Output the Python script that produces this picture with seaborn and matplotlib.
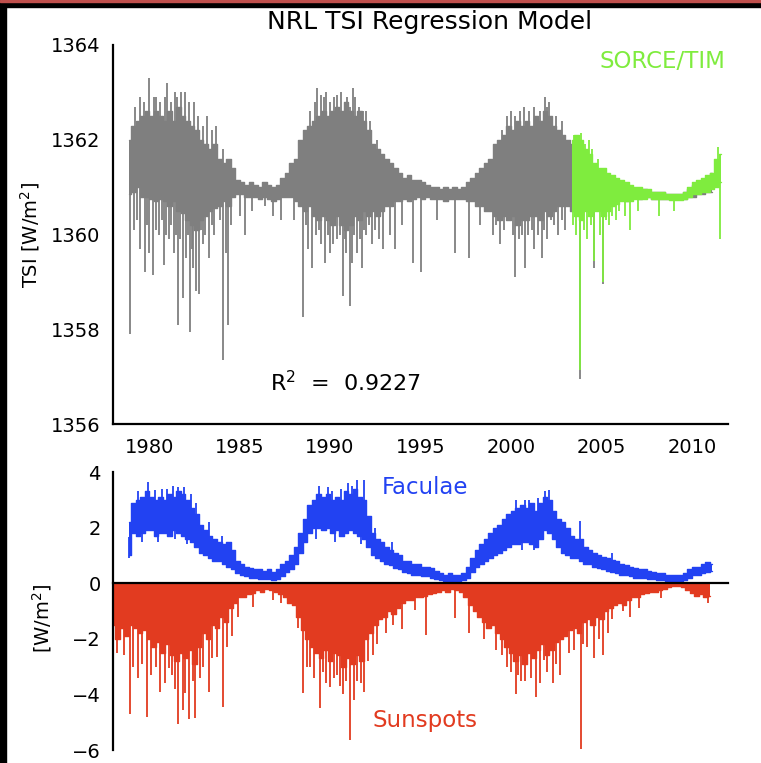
import numpy as np
import matplotlib
matplotlib.use("Agg")
import matplotlib.pyplot as plt
import seaborn as sns
from matplotlib.ticker import MultipleLocator, AutoMinorLocator
from matplotlib.patches import Rectangle

sns.set_style("white")
plt.rcParams['font.family'] = ['DejaVu Sans']
plt.rcParams['text.color'] = 'black'

# ---------------- data ----------------
STEP = 0.25
TSI_T0 = 1978.875
tsi_hi = [1362.0, 1362.3, 1362.4, 1362.5, 1362.6, 1362.5, 1362.6, 1362.5, 1362.4, 1362.6,
          1362.4, 1362.7, 1362.5, 1362.4, 1362.3, 1362.2, 1362.0, 1361.9, 1361.8, 1361.9,
          1361.6, 1361.5, 1361.6, 1361.4, 1361.15, 1361.1, 1361.05, 1361.1, 1361.05, 1361.0,
          1361.1, 1361.05, 1361.0, 1361.05, 1361.2, 1361.3, 1361.5, 1361.6, 1362.0, 1362.2,
          1362.3, 1362.4, 1362.5, 1362.6, 1362.5, 1362.6, 1362.7, 1362.6, 1362.8, 1362.6,
          1362.5, 1362.6, 1362.4, 1362.2, 1361.9, 1361.8, 1361.7, 1361.6, 1361.5, 1361.4,
          1361.3, 1361.2, 1361.25, 1361.15, 1361.15, 1361.1, 1361.05, 1361.0, 1361.0, 1360.95,
          1361.0, 1360.95, 1361.0, 1360.95, 1361.0, 1361.1, 1361.2, 1361.3, 1361.4, 1361.5,
          1361.6, 1361.9, 1362.0, 1362.1, 1362.3, 1362.2, 1362.4, 1362.3, 1362.4, 1362.3,
          1362.5, 1362.4, 1362.6, 1362.5, 1362.3, 1362.2, 1362.1, 1362.0, 1361.9, 1361.8,
          1361.9, 1361.6, 1361.5, 1361.4, 1361.3, 1361.3, 1361.2, 1361.15, 1361.1, 1361.1,
          1361.05, 1361.0, 1360.95, 1360.95, 1360.95, 1360.9, 1360.9, 1360.9, 1360.9, 1360.85,
          1360.85, 1360.85, 1360.85, 1360.9, 1360.95, 1361.05, 1361.1, 1361.15, 1361.2, 1361.3]
tsi_lo = [1360.85, 1360.9, 1361.0, 1360.8, 1360.8, 1360.75, 1360.7, 1360.75, 1360.7, 1360.6,
          1360.7, 1360.5, 1360.45, 1360.3, 1360.2, 1360.1, 1360.3, 1360.4, 1360.5, 1360.55,
          1360.6, 1360.7, 1360.6, 1360.8, 1360.85, 1360.85, 1360.8, 1360.8, 1360.8, 1360.75,
          1360.8, 1360.75, 1360.7, 1360.75, 1360.8, 1360.8, 1360.8, 1360.7, 1360.6, 1360.5,
          1360.6, 1360.4, 1360.3, 1360.4, 1360.3, 1360.2, 1360.4, 1360.2, 1360.1, 1360.2,
          1360.4, 1360.3, 1360.5, 1360.4, 1360.5, 1360.4, 1360.5, 1360.6, 1360.6, 1360.7,
          1360.7, 1360.75, 1360.7, 1360.75, 1360.8, 1360.75, 1360.8, 1360.75, 1360.75, 1360.75,
          1360.7, 1360.75, 1360.75, 1360.75, 1360.75, 1360.7, 1360.7, 1360.6, 1360.6, 1360.5,
          1360.5, 1360.4, 1360.3, 1360.4, 1360.3, 1360.4, 1360.2, 1360.3, 1360.3, 1360.4,
          1360.4, 1360.3, 1360.5, 1360.4, 1360.5, 1360.6, 1360.6, 1360.6, 1360.5, 1360.5,
          1360.4, 1360.6, 1360.5, 1360.6, 1360.6, 1360.5, 1360.6, 1360.7, 1360.7, 1360.75,
          1360.7, 1360.75, 1360.8, 1360.75, 1360.8, 1360.8, 1360.75, 1360.75, 1360.75, 1360.75,
          1360.75, 1360.75, 1360.75, 1360.75, 1360.8, 1360.8, 1360.85, 1360.85, 1360.9, 1360.9]
tsi_spike_t = [1978.95, 1979.15, 1979.5, 1979.75, 1980.0, 1980.2, 1980.55, 1980.8, 1981.1, 1981.35,
               1981.6, 1981.85, 1982.05, 1982.25, 1982.45, 1982.6, 1982.75, 1982.95, 1983.3, 1983.6,
               1984.1, 1984.25, 1984.35, 1984.5, 1985.0, 1985.3, 1985.7, 1986.4, 1986.85, 1987.3,
               1988.0, 1988.5, 1988.8, 1989.0, 1989.5, 1989.7, 1990.0, 1990.4, 1990.7, 1990.9,
               1991.1, 1991.2, 1991.5, 1991.75, 1992.0, 1992.3, 1992.7, 1992.9, 1993.3, 1993.6,
               1994.0, 1994.6, 1995.0, 1995.9, 1996.9, 1997.7, 1998.3, 1999.0, 1999.4, 1999.9,
               2000.25, 2000.6, 2000.8, 2001.3, 2001.7, 2002.0, 2002.2, 2002.6, 2003.0, 2003.8,
               2004.6, 2005.1,
               1979.3, 1979.9, 1980.35, 1980.7, 1980.95, 1981.2, 1981.5, 1981.7, 1982.15, 1982.35,
               1982.85, 1983.1, 1983.45, 1983.9, 1988.65, 1989.2, 1989.4, 1989.9, 1990.15, 1990.55,
               1990.8, 1991.35, 1991.65, 1991.9, 1992.15, 1992.5, 1999.2, 1999.6, 2000.1, 2000.45,
               2000.95, 2001.15, 2001.5, 2001.85, 2002.4, 2002.8,
               1979.5, 1980.0, 1980.4, 1981.0, 1981.4, 1981.75, 1982.0, 1982.5, 1983.2, 1983.7,
               1984.1, 1989.3, 1989.5, 1989.8, 1990.2, 1990.6, 1990.95, 1991.25, 1991.6, 1992.0,
               1992.6, 1999.8, 2000.0, 2000.7, 2001.0, 2001.9, 2002.1, 2002.8,
               1979.2, 1979.7, 1980.25, 1980.6, 1980.85, 1981.2, 1981.55, 1982.2, 1982.7, 1982.95,
               1983.45, 1988.9, 1989.15, 1989.65, 1990.0, 1990.4, 1990.8, 1991.1, 1991.4, 1991.8,
               1992.2, 1999.5, 2000.2, 2000.5, 2001.25, 2001.6, 2002.0, 2002.5]
tsi_spike_v = [1357.9, 1360.1, 1359.7, 1359.2, 1359.6, 1359.15, 1360.0, 1359.35, 1359.9, 1359.6,
               1358.1, 1358.65, 1359.5, 1357.95, 1359.3, 1358.8, 1358.75, 1359.8, 1359.5, 1360.0,
               1357.35, 1359.6, 1358.1, 1360.2, 1360.4, 1360.0, 1360.5, 1360.6, 1360.4, 1360.3,
               1360.3, 1358.25, 1359.7, 1359.3, 1359.8, 1359.4, 1359.6, 1359.9, 1358.7, 1359.6,
               1358.5, 1359.4, 1359.6, 1359.3, 1360.0, 1359.8, 1359.9, 1359.7, 1360.0, 1359.7,
               1360.2, 1359.4, 1359.2, 1360.3, 1359.6, 1359.5, 1360.2, 1360.0, 1359.8, 1360.3,
               1359.1, 1360.0, 1359.3, 1359.7, 1359.5, 1359.9, 1360.3, 1360.0, 1360.1, 1356.95,
               1359.3, 1358.95,
               1360.3, 1360.2, 1360.1, 1360.3, 1360.0, 1360.2, 1360.0, 1359.9, 1360.0, 1359.7,
               1360.1, 1360.0, 1360.2, 1360.3, 1360.2, 1360.0, 1360.1, 1360.0, 1359.8, 1360.0,
               1359.9, 1360.0, 1359.9, 1360.1, 1360.2, 1360.1, 1360.2, 1360.1, 1360.0, 1359.9,
               1360.0, 1360.1, 1360.0, 1360.1, 1360.2, 1360.3,
               1362.9, 1363.3, 1362.9, 1363.2, 1363.0, 1363.0, 1363.0, 1362.8, 1362.5, 1362.3,
               1361.8, 1363.1, 1362.95, 1363.0, 1362.9, 1363.0, 1362.9, 1363.1, 1362.7, 1362.6,
               1362.0, 1362.5, 1362.6, 1362.7, 1362.6, 1362.9, 1362.8, 1362.4,
               1362.7, 1362.8, 1362.9, 1362.8, 1362.9, 1362.8, 1362.9, 1362.8, 1362.5, 1362.3,
               1362.2, 1362.6, 1362.8, 1362.9, 1362.8, 1362.95, 1362.8, 1362.7, 1362.9, 1362.6,
               1362.4, 1362.2, 1362.5, 1362.6, 1362.7, 1362.6, 1362.7, 1362.5]

SORCE_T0 = 2003.375
sorce_hi = [1362.0, 1362.1, 1362.0, 1361.8, 1361.7, 1361.5, 1361.4, 1361.4, 1361.3, 1361.25,
            1361.2, 1361.15, 1361.1, 1361.05, 1361.0, 1361.0, 1360.95, 1360.95, 1360.9, 1360.9,
            1360.9, 1360.85, 1360.85, 1360.85, 1360.85, 1360.9, 1361.0, 1361.1, 1361.15, 1361.2,
            1361.25, 1361.3, 1361.6, 1361.7]
sorce_lo = [1360.5, 1360.4, 1360.3, 1360.5, 1360.4, 1360.5, 1360.5, 1360.4, 1360.5, 1360.6,
            1360.65, 1360.7, 1360.7, 1360.7, 1360.75, 1360.75, 1360.75, 1360.8, 1360.75, 1360.75,
            1360.75, 1360.75, 1360.72, 1360.72, 1360.72, 1360.75, 1360.8, 1360.85, 1360.85, 1360.9,
            1360.9, 1360.95, 1361.0, 1361.1]
sorce_spike_t = [2003.8, 2003.6, 2003.9, 2004.2, 2004.6, 2005.1, 2004.9, 2005.4, 2005.8, 2006.3,
                 2006.6, 2007.0, 2008.2, 2009.0, 2011.55, 2003.9, 2004.3, 2004.8, 2011.45,
                 2003.45, 2004.05, 2004.45, 2005.25, 2005.6, 2006.0, 2003.5, 2004.1, 2004.5]
sorce_spike_v = [1357.15, 1360.0, 1360.3, 1359.9, 1359.45, 1359.0, 1360.0, 1360.2, 1360.3, 1360.4,
                 1360.1, 1360.5, 1360.4, 1360.5, 1359.9, 1362.15, 1362.0, 1361.6, 1361.85,
                 1360.2, 1360.1, 1360.2, 1360.3, 1360.4, 1360.5, 1362.1, 1361.9, 1361.8]

FAC_T0 = 1978.875
fac_hi = [2.2, 2.9, 3.0, 3.1, 3.3, 3.1, 3.0, 3.1, 3.0, 3.2, 3.1, 3.3, 3.2, 3.0, 2.7, 2.5, 2.1, 1.9,
          1.7, 1.6, 1.5, 1.4, 1.5, 1.2, 0.8, 0.7, 0.6, 0.55, 0.5, 0.5, 0.45, 0.5, 0.4, 0.5, 0.7,
          0.8, 1.0, 1.3, 1.8, 2.3, 2.8, 3.0, 3.2, 3.1, 3.2, 3.0, 3.1, 3.0, 3.3, 3.2, 3.4, 3.1, 3.0,
          2.4, 1.8, 1.6, 1.5, 1.3, 1.2, 1.1, 1.0, 0.8, 0.8, 0.7, 0.7, 0.6, 0.6, 0.55, 0.45, 0.35,
          0.3, 0.35, 0.3, 0.3, 0.35, 0.6, 0.9, 1.2, 1.4, 1.6, 1.8, 2.0, 2.1, 2.3, 2.5, 2.6, 2.7,
          2.8, 2.7, 2.9, 2.6, 2.9, 3.1, 3.0, 2.6, 2.3, 2.2, 2.0, 1.7, 1.6, 1.6, 1.3, 1.2, 1.1, 1.0,
          0.95, 0.9, 0.85, 0.8, 0.7, 0.65, 0.6, 0.55, 0.5, 0.5, 0.45, 0.4, 0.35, 0.35, 0.3, 0.3,
          0.3, 0.3, 0.35, 0.5, 0.6, 0.6, 0.7, 0.75, 0.7]
fac_lo = [1.0, 1.8, 1.7, 1.8, 1.9, 1.9, 1.7, 1.8, 1.8, 1.7, 1.9, 1.8, 1.7, 1.6, 1.5, 1.3, 1.1, 1.0,
          0.9, 0.8, 0.8, 0.7, 0.6, 0.5, 0.35, 0.3, 0.25, 0.2, 0.2, 0.15, 0.15, 0.15, 0.12, 0.15,
          0.25, 0.4, 0.5, 0.7, 1.1, 1.5, 1.8, 2.0, 2.0, 1.9, 2.0, 1.8, 1.9, 1.7, 1.8, 1.9, 1.8, 1.7,
          1.6, 1.3, 1.0, 0.9, 0.8, 0.7, 0.65, 0.55, 0.5, 0.4, 0.35, 0.3, 0.3, 0.25, 0.25, 0.2, 0.15,
          0.1, 0.08, 0.06, 0.05, 0.05, 0.1, 0.2, 0.4, 0.6, 0.7, 0.8, 0.9, 1.0, 1.1, 1.2, 1.3, 1.4,
          1.4, 1.5, 1.5, 1.4, 1.3, 1.6, 1.9, 1.8, 1.6, 1.3, 1.1, 1.0, 0.9, 0.9, 0.8, 0.7, 0.7, 0.6,
          0.55, 0.5, 0.45, 0.4, 0.35, 0.3, 0.3, 0.25, 0.2, 0.2, 0.2, 0.15, 0.15, 0.1, 0.1, 0.08,
          0.07, 0.07, 0.08, 0.1, 0.2, 0.3, 0.3, 0.35, 0.4, 0.45]
fac_spike_t = [1979.95, 1980.7, 1981.3, 1981.9, 1982.3, 1983.3, 1984.0, 1989.4, 1990.1, 1991.0,
               1991.5, 1991.9, 1992.5, 1993.4, 2000.3, 2001.0, 2001.9, 2002.1, 2003.8, 2005.6,
               1979.4, 1980.3, 1981.0, 1981.6, 1982.6, 1989.9, 1990.6, 1991.2, 2000.8, 2001.5,
               1978.9, 1979.6, 1980.5, 1981.4, 1982.1, 1989.2, 1990.3, 1991.7, 2000.6, 2001.3]
fac_spike_v = [3.65, 3.4, 3.5, 3.45, 3.2, 2.2, 1.7, 3.5, 3.3, 3.6,
               3.7, 3.7, 2.0, 1.5, 3.0, 3.0, 3.3, 3.35, 2.25, 1.1,
               3.3, 3.35, 3.4, 3.45, 2.9, 3.45, 3.4, 3.5, 3.0, 3.05,
               0.9, 1.5, 1.5, 1.6, 1.4, 1.6, 1.5, 1.4, 1.2, 1.2]

SPOT_T0 = 1978.0
spot_lo = [-1.5, -2.0, -1.6, -1.9, -1.5, -1.6, -1.8, -1.7, -2.0, -2.3, -2.1, -2.5, -2.2, -2.6,
           -2.8, -2.5, -2.7, -2.4, -2.9, -2.3, -1.8, -2.0, -1.5, -1.6, -1.2, -1.4, -0.9, -0.7,
           -0.5, -0.5, -0.4, -0.35, -0.25, -0.3, -0.2, -0.25, -0.3, -0.4, -0.5, -0.7, -0.8, -1.2,
           -1.7, -2.0, -2.3, -2.5, -2.7, -2.4, -2.8, -2.5, -2.6, -3.0, -2.7, -2.9, -2.6, -2.8,
           -2.0, -1.8, -1.5, -1.3, -1.2, -1.0, -1.1, -0.9, -0.7, -0.6, -0.6, -0.5, -0.5, -0.45,
           -0.4, -0.35, -0.3, -0.25, -0.3, -0.2, -0.25, -0.3, -0.5, -0.8, -1.0, -1.2, -1.4, -1.6,
           -1.5, -1.8, -2.0, -2.3, -2.5, -2.8, -2.6, -2.9, -2.5, -2.7, -2.4, -2.2, -2.6, -2.4,
           -2.1, -2.0, -1.9, -1.7, -1.6, -1.8, -1.4, -1.3, -1.5, -1.2, -1.3, -1.0, -0.9, -0.8,
           -0.7, -0.8, -0.6, -0.5, -0.5, -0.4, -0.35, -0.3, -0.3, -0.25, -0.2, -0.15, -0.1, -0.1,
           -0.15, -0.25, -0.35, -0.45, -0.4, -0.5, -0.45]
spot_spike_t = [1978.2, 1978.95, 1979.4, 1979.86, 1980.6, 1981.1, 1981.6, 1981.85, 1982.0, 1982.2,
                1982.55, 1982.8, 1983.3, 1983.75, 1984.1, 1984.3, 1984.9, 1985.75, 1986.85, 1987.3,
                1988.5, 1988.9, 1989.45, 1990.0, 1990.4, 1991.1, 1991.5, 1991.85, 1992.1, 1992.6,
                1993.1, 1993.95, 1994.7, 1995.3, 1996.9, 1997.7, 2000.26, 2000.53, 2000.8, 2001.37,
                2001.83, 2002.7, 2003.9, 2004.6, 2005.1, 2005.6, 2006.2, 2008.3,
                1979.1, 1980.1, 1980.9, 1981.4, 1983.0, 1989.1, 1989.8, 1990.7, 1991.3, 1999.5,
                2000.0, 2001.1, 2002.3, 2003.5, 2004.2,
                1978.6, 1979.6, 1980.35, 1981.25, 1982.4, 1983.5, 1984.6, 1988.2, 1988.75, 1989.6,
                1990.2, 1990.55, 1990.9, 1991.7, 1992.35, 1993.5, 1998.5, 1999.2, 1999.8, 2000.4,
                2001.6, 2002.0, 2002.5, 2003.2, 2004.0, 2004.85, 2005.35, 2006.6, 2007.1, 2010.9]
spot_spike_v = [-2.5, -4.7, -3.4, -4.8, -3.9, -3.05, -5.05, -4.55, -3.95, -4.9,
                -4.85, -3.4, -3.9, -2.65, -4.45, -2.3, -1.2, -0.85, -0.6, -0.7,
                -3.95, -3.0, -4.5, -3.75, -3.3, -5.65, -3.5, -3.9, -2.8, -2.2,
                -1.8, -1.65, -0.95, -1.85, -1.26, -1.8, -3.97, -3.5, -3.5, -4.1,
                -2.77, -3.3, -5.95, -2.7, -2.6, -1.3, -1.0, -0.55,
                -3.0, -3.3, -3.6, -3.8, -3.0, -3.4, -3.6, -4.0, -4.2, -2.6,
                -3.2, -3.4, -3.6, -2.4, -2.3,
                -2.6, -2.9, -3.0, -3.3, -3.5, -2.7, -1.9, -1.6, -3.0, -3.2,
                -3.4, -3.7, -3.5, -3.6, -2.6, -1.5, -2.0, -2.4, -3.0, -3.3,
                -3.6, -3.2, -2.9, -2.5, -2.2, -2.0, -1.8, -1.2, -0.9, -0.7]

year_ticks = [1980, 1985, 1990, 1995, 2000, 2005, 2010]
tsi_ticks = [1356, 1358, 1360, 1362, 1364]
w_ticks = [-6, -4, -2, 0, 2, 4]
w_tick_labels = ['\u22126', '\u22124', '\u22122', '0', '2', '4']

# ---------------- styling ----------------
GRAY = '#7f7f7f'
GREEN = '#7fec3e'
BLUE = '#2242f2'
RED = '#e23b20'

W, H = 761, 763
fig = plt.figure(figsize=(W / 100, H / 100), dpi=100)
fig.patch.set_facecolor('white')


def fx(px):
    return px / W


def fy(py):
    return 1 - py / H


ax1 = fig.add_axes([fx(113), fy(424), fx(728) - fx(113), fy(45) - fy(424)])
ax2 = fig.add_axes([fx(113), fy(750), fx(728) - fx(113), fy(472) - fy(750)])


def band(ax, t0, hi, lo, color, z=2):
    hi = np.asarray(hi, float)
    lo = np.asarray(lo, float)
    t = t0 + STEP * np.arange(len(hi))
    ax.fill_between(t, lo, hi, step='mid', color=color, lw=0, zorder=z)
    sns.lineplot(x=t, y=hi, ax=ax, color=color, lw=1.0, drawstyle='steps-mid',
                 estimator=None, sort=False, zorder=z)
    sns.lineplot(x=t, y=lo, ax=ax, color=color, lw=1.0, drawstyle='steps-mid',
                 estimator=None, sort=False, zorder=z)
    return t, (hi + lo) / 2


def spikes(ax, t, mid, st, sv, color, z=2, lw=1.3):
    st = np.asarray(st, float)
    sv = np.asarray(sv, float)
    base = np.interp(st, t, mid)
    ax.vlines(st, np.minimum(base, sv), np.maximum(base, sv), color=color, lw=lw, zorder=z)


# top panel
t, mid = band(ax1, TSI_T0, tsi_hi, tsi_lo, GRAY, 2)
spikes(ax1, t, mid, tsi_spike_t, tsi_spike_v, GRAY, 2)
t, mid = band(ax1, SORCE_T0, sorce_hi, sorce_lo, GREEN, 3)
spikes(ax1, t, mid, sorce_spike_t, sorce_spike_v, GREEN, 3)

ax1.set_xlim(1978, 2012)
ax1.set_ylim(1356, 1364)
ax1.set_xticks(year_ticks)
ax1.set_yticks(tsi_ticks)
ax1.xaxis.set_minor_locator(MultipleLocator(1))
ax1.yaxis.set_minor_locator(MultipleLocator(0.5))

# bottom panel
t, mid = band(ax2, FAC_T0, fac_hi, fac_lo, BLUE, 2)
spikes(ax2, t, mid, fac_spike_t, fac_spike_v, BLUE, 2)
tr = SPOT_T0 + STEP * np.arange(len(spot_lo))
ax2.fill_between(tr, spot_lo, 0, step='mid', color=RED, lw=0, zorder=2)
sns.lineplot(x=tr, y=spot_lo, ax=ax2, color=RED, lw=1.0, drawstyle='steps-mid',
             estimator=None, sort=False, zorder=2)
ax2.vlines(spot_spike_t, spot_spike_v, 0, color=RED, lw=1.3, zorder=2)

ax2.set_xlim(1978, 2012)
ax2.set_ylim(-6, 4)
ax2.set_xticks(year_ticks)
ax2.set_xticklabels([])
ax2.set_yticks(w_ticks)
ax2.set_yticklabels(w_tick_labels)
ax2.xaxis.set_minor_locator(MultipleLocator(1))
ax2.yaxis.set_minor_locator(AutoMinorLocator(3))
ax2.spines['bottom'].set_position(('data', 0))

for ax in (ax1, ax2):
    ax.set_facecolor('white')
    ax.spines['top'].set_visible(False)
    ax.spines['right'].set_visible(False)
    for s in ('left', 'bottom'):
        ax.spines[s].set_color('black')
        ax.spines[s].set_linewidth(1.6)
        ax.spines[s].set_zorder(5)
    ax.tick_params(axis='both', which='major', direction='in', length=5, width=1.3,
                   color='black', labelsize=14, labelcolor='black')
    ax.tick_params(axis='both', which='minor', direction='in', length=3, width=1.1,
                   color='black')
    ax.tick_params(axis='y', which='major', direction='inout', length=8, pad=5)
    ax.tick_params(axis='x', which='major', pad=10)
    ax.set_xlabel('')
    ax.set_ylabel('')
    ax.grid(False)

# texts
fig.text(fx(430), fy(22), 'NRL TSI Regression Model', ha='center', va='center', fontsize=18)
fig.text(fx(662), fy(62), 'SORCE/TIM', ha='center', va='center', fontsize=16.5, color=GREEN)
fig.text(fx(345), fy(383), 'R$^{\\mathregular{2}}$  =  0.9227', ha='center', va='center',
         fontsize=16)
fig.text(fx(425), fy(488), 'Faculae', ha='center', va='center', fontsize=16.5, color=BLUE)
fig.text(fx(425), fy(720), 'Sunspots', ha='center', va='center', fontsize=16.5, color=RED)
fig.text(fx(30), fy(235), 'TSI [W/m$^{\\mathregular{2}}$]', ha='center', va='center',
         rotation=90, fontsize=14)
fig.text(fx(42), fy(618), '[W/m$^{\\mathregular{2}}$]', ha='center', va='center',
         rotation=90, fontsize=14)

# black frame strips of the reference image
fig.patches.append(Rectangle((0, 0), fx(6), 1, transform=fig.transFigure, color='black', zorder=10))
fig.patches.append(Rectangle((0, fy(7)), 1, 1 - fy(7), transform=fig.transFigure, color='black', zorder=10))
fig.patches.append(Rectangle((0, fy(2)), 1, 1 - fy(2), transform=fig.transFigure, color='#c0504d', zorder=11))

fig.savefig('out.png', dpi=100)
